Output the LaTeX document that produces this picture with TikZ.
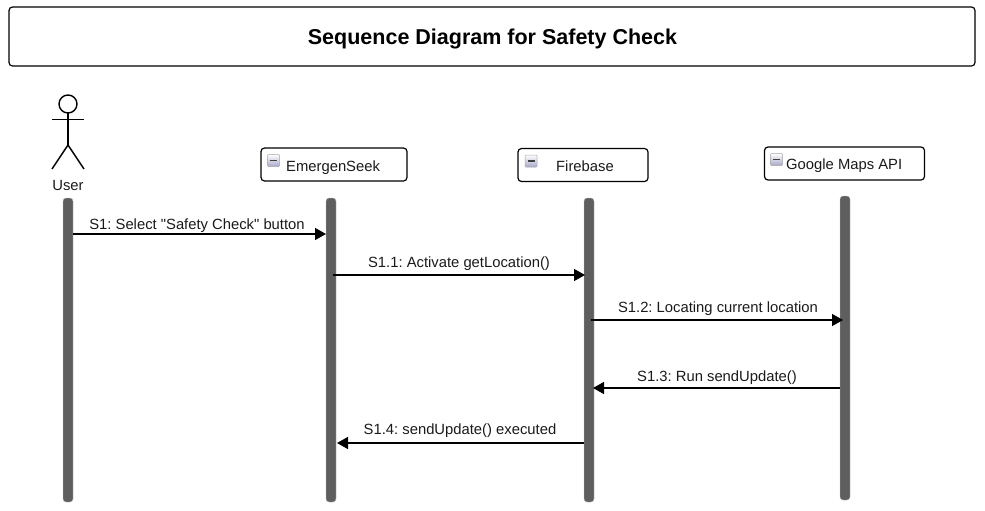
\documentclass[tikz,border=0pt]{standalone}
\usepackage{fontspec}
\newfontfamily\plainsans{Liberation Sans}
\usetikzlibrary{arrows.meta}
\definecolor{lifegray}{HTML}{5E5E5E}
\definecolor{ink}{HTML}{1A1A1A}
\tikzset{
  lifeline/.style={draw=lifegray!40,line width=0.4pt,fill=lifegray,rounded corners=3pt,minimum width=10pt,minimum height=304pt,inner sep=0pt,outer sep=0pt},
  objbox/.style={draw=black,line width=1.2pt,rounded corners=3.5pt,fill=white,inner sep=0pt,outer sep=0pt},
  msg/.style={draw=black,line width=1.4pt,-{Triangle[length=11pt,width=12pt]}},
  msglabel/.style={font=\plainsans\frenchspacing\fontsize{14.8}{16}\selectfont,text=ink,inner sep=0pt,anchor=base},
  objlabel/.style={font=\plainsans\fontsize{14.8}{16}\selectfont,text=ink,inner sep=0pt},
  icon/.style={draw=black!35,line width=0.5pt,rounded corners=1pt,top color=white,bottom color=blue!25!gray!55,minimum size=12pt,inner sep=0pt},
  stick/.style={draw=black,line width=1.4pt}
}
\newcommand{\miconat}[2]{%
  \node[icon] (#2) at (#1) {};
  \draw[black!75,line width=1.2pt] ([xshift=-3.5pt]#2.center) -- ([xshift=3.5pt]#2.center);
}
\begin{document}
\begin{tikzpicture}[x=1pt,y=-1pt]
\useasboundingbox (0,0) rectangle (985,511);
\node[objbox,minimum width=966pt,minimum height=59pt] (title) at (492,36.5) {};
\node[font=\plainsans\bfseries\fontsize{21.5}{24}\selectfont,text=black,inner sep=0pt,anchor=base] (titletext) at (492.5,44.5) {Sequence Diagram for Safety Check};

% actor
\node[circle,draw=black,line width=1.4pt,minimum size=18pt,inner sep=0pt,outer sep=0pt] (head) at (68,104) {};
\coordinate (hip) at (68,145);
\coordinate (armL) at (52,119.5);
\coordinate (armR) at (84,119.5);
\coordinate (legL) at (52,169);
\coordinate (legR) at (84,169);
\draw[stick] (head.south) -- (hip);
\draw[stick] (armL) -- (armR);
\draw[stick] (legL) -- (hip) -- (legR);
\node[objlabel,anchor=base] (user) at (68,190) {User};

% boxes
\node[objbox,minimum width=146pt,minimum height=33pt] (emerg) at (334,164.5) {};
\miconat{273.5,160.5}{ic1}
\node[objlabel,anchor=base west] (emergt) at (286,171) {EmergenSeek};
\node[objbox,minimum width=130pt,minimum height=33pt] (fire) at (583,165) {};
\miconat{531,161}{ic2}
\node[objlabel,anchor=base west] (firet) at (556,171) {Firebase};
\node[objbox,minimum width=160pt,minimum height=33pt] (maps) at (844.5,163.5) {};
\miconat{776.5,159.5}{ic3}
\node[objlabel,anchor=base west] (mapst) at (786,169.5) {Google Maps API};

% lifelines
\node[lifeline] (l1) at (68,350) {};
\node[lifeline] (l2) at (331,350) {};
\node[lifeline] (l3) at (589,350) {};
\node[lifeline] (l4) at (845,348) {};

% messages
\draw[msg] (l1.east |- 0,234) -- (l2.west |- 0,234);
\node[msglabel] (m1) at (197,229) {S1: Select "Safety Check" button};
\draw[msg] ([xshift=-3pt]l2.east |- 0,275) -- ([xshift=1pt]l3.west |- 0,275);
\node[msglabel] (m2) at (459,267) {S1.1: Activate getLocation()};
\draw[msg] ([xshift=-3pt]l3.east |- 0,320) -- ([xshift=3pt]l4.west |- 0,320);
\node[msglabel] (m3) at (718,312) {S1.2: Locating current location};
\draw[msg] (l4.west |- 0,388) -- ([xshift=-1pt]l3.east |- 0,388);
\node[msglabel] (m4) at (717,381) {S1.3: Run sendUpdate()};
\draw[msg] (l3.west |- 0,443) -- ([xshift=1pt]l2.east |- 0,443);
\node[msglabel] (m5) at (460,434) {S1.4: sendUpdate() executed};
\end{tikzpicture}
\end{document}
